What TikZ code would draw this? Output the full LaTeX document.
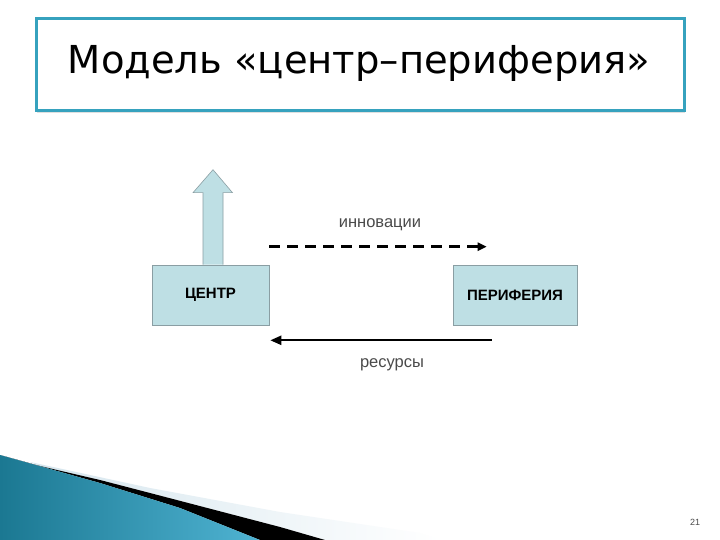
\documentclass[tikz,border=0pt]{standalone}
\usepackage{fontspec}
\setmainfont{Liberation Sans}
\newfontfamily\titlefont{DejaVu Sans}
\usetikzlibrary{arrows.meta,calc,shadows}
\definecolor{boxfill}{HTML}{BEDFE4}
\definecolor{boxline}{HTML}{8A9EA3}
\definecolor{frameteal}{HTML}{36A2BE}
\definecolor{tealdark}{HTML}{1B7892}
\definecolor{teallight}{HTML}{4FB3D2}
\definecolor{paleband}{HTML}{D6E6EE}
\definecolor{labelgray}{HTML}{4A4A4A}
\tikzset{
  blockbox/.style={draw=boxline, line width=0.6pt, fill=boxfill, minimum width=117pt, minimum height=60pt, inner sep=0pt, font=\bfseries\fontsize{15}{17}\selectfont},
  flowlabel/.style={text=labelgray, font=\fontsize{16.5}{18}\selectfont, inner sep=0pt},
}
\begin{document}
\begin{tikzpicture}[x=1pt,y=-1pt]
\useasboundingbox (0,0) rectangle (720,540);
\fill[white] (0,0) rectangle (720,540);
% bottom-left decoration
\shade[left color=paleband, right color=white] (30,462) -- (150,488) -- (280,512) -- (420,533) -- (440,540) -- (325,540) -- (280,527) -- (150,493) -- (100,480) -- (40,466) -- cycle;
\fill[black] (40,466) -- (100,480) -- (150,493) -- (280,527) -- (325,540) -- (260,540) -- (180,508) -- (100,483) -- (0,455) -- cycle;
\shade[left color=tealdark, right color=teallight] (0,455) -- (100,483) -- (180,508) -- (260,540) -- (0,540) -- cycle;
% title frame
\node[draw=frameteal, line width=3pt, fill=white, minimum width=648pt, minimum height=92pt, inner sep=0pt,
  drop shadow={shadow xshift=1pt, shadow yshift=-2pt, opacity=0.25}] (frame) at (360,65) {};
\node[font=\titlefont\fontsize{38.5}{42}\selectfont, inner sep=0pt] (title) at (359,63) {Модель «центр–периферия»};
% blocks
\node[blockbox] (centr) at (210.5,295) {ЦЕНТР};
\node[blockbox, minimum width=124pt] (perif) at (515,295) {ПЕРИФЕРИЯ};
% up arrow
\draw[draw=boxline, line width=0.6pt, fill=boxfill]
  ($(centr.north)+(-7.5,0)$) -- ++(0,-72) -- ++(-10,0) -- ($(centr.north)+(2.5,-95)$)
  -- ($(centr.north)+(22,-72)$) -- ++(-9.5,0) -- ($(centr.north)+(12.5,0)$);
% connectors
\coordinate (i1) at ($(centr.north east)+(0,-18)$);
\coordinate (i2) at ($(perif.north west)+(34,-18)$);
\coordinate (r1) at ($(perif.south west)+(39,15)$);
\coordinate (r2) at ($(centr.south east)+(1,15)$);
\draw[line width=3pt, dash pattern=on 11pt off 7pt, -{Triangle[length=9pt,width=8pt]}] (i1) -- (i2);
\draw[line width=2.2pt, -{Triangle[length=11pt,width=9pt]}] (r1) -- (r2);
\node[flowlabel] (innov) at (380,225) {инновации};
\node[flowlabel] (res) at (392,365) {ресурсы};
% page number
\node[font=\fontsize{9}{10}\selectfont, text=labelgray, inner sep=0pt] (pg) at (695,522) {21};
\end{tikzpicture}
\end{document}
